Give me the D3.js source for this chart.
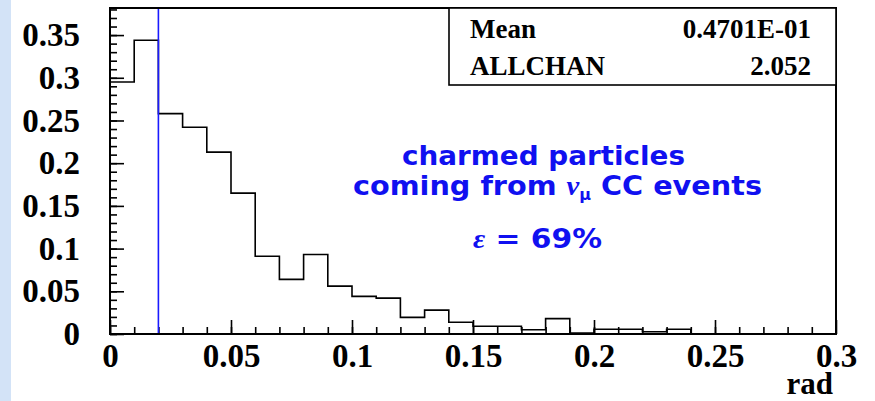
<!DOCTYPE html>
<html>
<head>
<meta charset="utf-8">
<script src="https://cdn.jsdelivr.net/npm/d3@7"></script>
<style>
  body { margin: 0; background: #fff; }
  svg { display: block; }
  .tick-label { font-family: "Liberation Serif", "Times New Roman", serif; font-weight: bold; fill: #000; }
  .note { font-family: "DejaVu Sans", sans-serif; font-weight: bold; fill: #1010f0; }
</style>
</head>
<body>
<div id="wrapper"></div>
<script>
// bin contents (bin width 0.01 rad, starting at 0)
const binWidth = 0.01;
const binValues = [
  0.295, 0.344, 0.258, 0.242, 0.213, 0.165, 0.091, 0.064, 0.093, 0.056,
  0.044, 0.042, 0.0195, 0.028, 0.0137, 0.009, 0.009, 0.005, 0.018, 0.0012,
  0.0055, 0.0055, 0.0027, 0.0055, 0, 0, 0, 0, 0, 0
];
const xMajorTicks = [0, 0.05, 0.1, 0.15, 0.2, 0.25, 0.3];
const yMajorTicks = [0, 0.05, 0.1, 0.15, 0.2, 0.25, 0.3, 0.35];
const cutValue = 0.02;
const statLabels = ["Mean", "ALLCHAN"];
const statValues = ["0.4701E-01", "2.052"];

function drawChart() {
  //* dimensions
  const dimensions = {
    width: 875,
    height: 401,
    margin: { top: 8, right: 39, bottom: 67, left: 110 },
  };
  dimensions.boundedWidth = dimensions.width - dimensions.margin.left - dimensions.margin.right;
  dimensions.boundedHeight = dimensions.height - dimensions.margin.top - dimensions.margin.bottom;

  const wrapper = d3.select("#wrapper").append("svg")
    .attr("width", dimensions.width)
    .attr("height", dimensions.height);

  // light blue strip on the left edge
  wrapper.append("rect")
    .attr("width", 11).attr("height", dimensions.height)
    .attr("fill", "#d3e3f7");

  const bounds = wrapper.append("g")
    .attr("transform", `translate(${dimensions.margin.left},${dimensions.margin.top})`);

  //* scales
  const xScale = d3.scaleLinear().domain([0, 0.3]).range([0, dimensions.boundedWidth]);
  const yScale = d3.scaleLinear().domain([0, 0.3817]).range([dimensions.boundedHeight, 0]);

  //* axes
  const labelFormat = d => d === 0 ? "0" : String(+d.toFixed(2));
  const yMinor = d3.axisLeft(yScale).tickValues(d3.range(0, 0.385, 0.01)).tickSize(-7).tickFormat("");
  const yMajor = d3.axisLeft(yScale).tickValues(yMajorTicks).tickSize(-14).tickPadding(30)
    .tickFormat(labelFormat);
  const xMinor = d3.axisBottom(xScale).tickValues(d3.range(0, 0.3, 0.01)).tickSize(-7).tickFormat("");
  const xMajor = d3.axisBottom(xScale).tickValues(xMajorTicks).tickSize(-14).tickPadding(10)
    .tickFormat(labelFormat);

  [yMinor, yMajor].forEach(ax => {
    bounds.append("g").call(ax).call(g => g.select(".domain").remove());
  });
  [xMinor, xMajor].forEach(ax => {
    bounds.append("g").attr("transform", `translate(0,${dimensions.boundedHeight})`)
      .call(ax).call(g => g.select(".domain").remove());
  });
  bounds.selectAll(".tick line").attr("stroke", "#000").attr("stroke-width", 1.6);
  bounds.selectAll(".tick text")
    .attr("class", "tick-label")
    .style("font-size", "33px")
    .attr("fill", "#000");

  // histogram outline
  const points = [];
  binValues.forEach((v, i) => {
    points.push([i * binWidth, v]);
    points.push([(i + 1) * binWidth, v]);
  });
  const lineGenerator = d3.line().x(d => xScale(d[0])).y(d => yScale(d[1]));
  bounds.append("path")
    .attr("d", lineGenerator(points))
    .attr("fill", "none").attr("stroke", "#000").attr("stroke-width", 1.6);

  // cut line
  bounds.append("line")
    .attr("x1", xScale(cutValue)).attr("x2", xScale(cutValue))
    .attr("y1", 0).attr("y2", dimensions.boundedHeight)
    .attr("stroke", "#1a1aff").attr("stroke-width", 1.6);

  // frame
  bounds.append("rect")
    .attr("width", dimensions.boundedWidth).attr("height", dimensions.boundedHeight)
    .attr("fill", "none").attr("stroke", "#000").attr("stroke-width", 2);

  // stats box
  const boxLeft = 449 - dimensions.margin.left;
  const statBox = bounds.append("g");
  statBox.append("rect")
    .attr("x", boxLeft).attr("y", 0)
    .attr("width", dimensions.boundedWidth - boxLeft).attr("height", 77)
    .attr("fill", "#fff").attr("stroke", "#000").attr("stroke-width", 1.6);
  statLabels.forEach((label, i) => {
    statBox.append("text").attr("class", "tick-label")
      .attr("x", boxLeft + 21).attr("y", 30 + i * 37)
      .style("font-size", "27px").text(label);
    statBox.append("text").attr("class", "tick-label")
      .attr("x", dimensions.boundedWidth - 25).attr("y", 30 + i * 37)
      .attr("text-anchor", "end")
      .style("font-size", "27px").text(statValues[i]);
  });

  // axis title
  wrapper.append("text").attr("class", "tick-label")
    .attr("x", 833).attr("y", 394).attr("text-anchor", "end")
    .style("font-size", "31px").text("rad");

  // annotation
  const notes = wrapper.append("g");
  notes.append("text").attr("class", "note")
    .attr("x", 402).attr("y", 165)
    .attr("textLength", 283).attr("lengthAdjust", "spacingAndGlyphs")
    .style("font-size", "27px").text("charmed particles");
  const line2 = notes.append("text").attr("class", "note")
    .attr("x", 353).attr("y", 195)
    .attr("textLength", 409).attr("lengthAdjust", "spacingAndGlyphs")
    .style("font-size", "27px");
  line2.append("tspan").text("coming from ");
  line2.append("tspan").style("font-family", "Liberation Serif, serif").style("font-style", "italic").text("ν");
  line2.append("tspan").attr("dy", 5).style("font-size", "15px").text("μ");
  line2.append("tspan").attr("dy", -5).text(" CC events");
  const line3 = notes.append("text").attr("class", "note")
    .attr("x", 473).attr("y", 248)
    .attr("textLength", 129).attr("lengthAdjust", "spacingAndGlyphs")
    .style("font-size", "27px");
  line3.append("tspan").style("font-family", "Liberation Serif, serif").style("font-style", "italic").text("ε");
  line3.append("tspan").text(" = 69%");
}

drawChart();
</script>
</body>
</html>
